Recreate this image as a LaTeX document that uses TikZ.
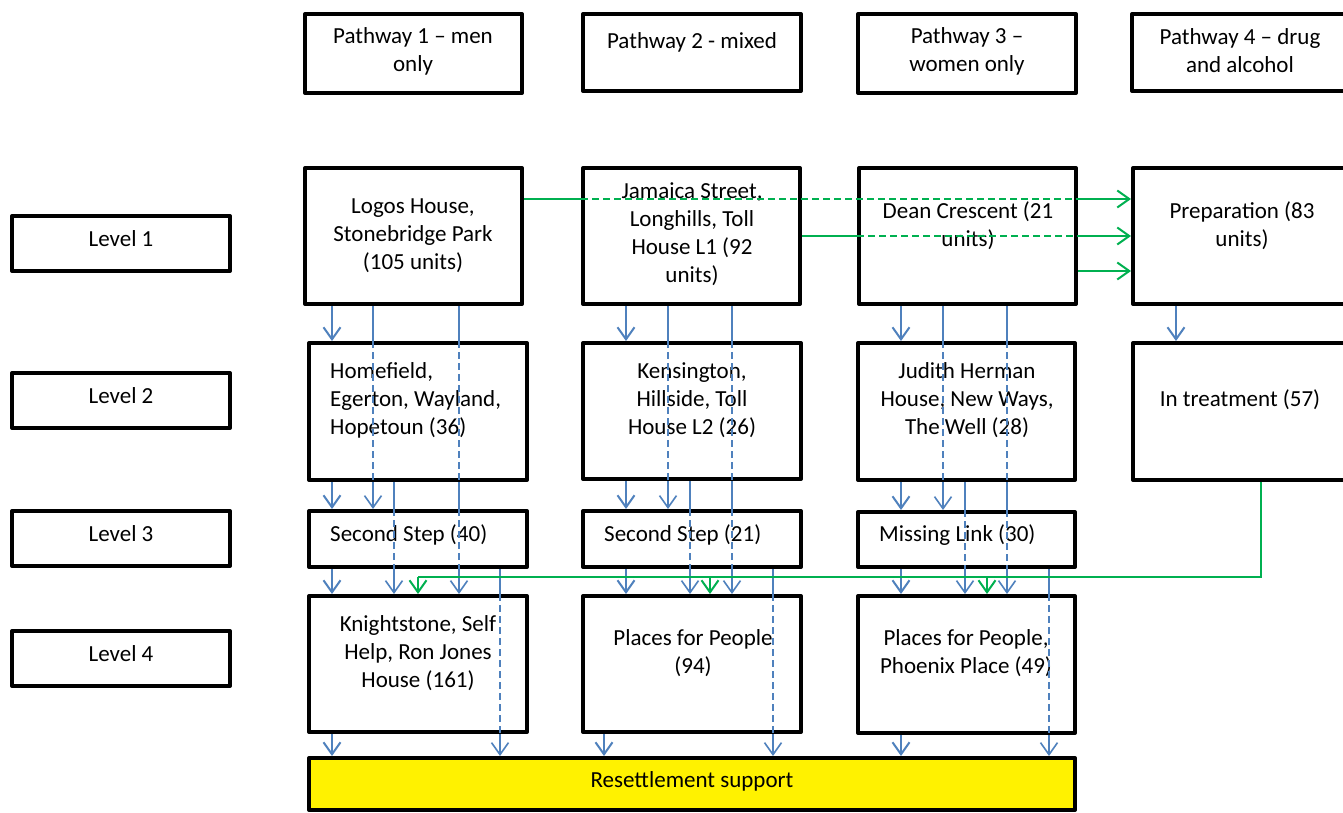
\documentclass[tikz,border=0pt]{standalone}
\usepackage{fontspec}
\setmainfont{Carlito}
\usetikzlibrary{arrows.meta}
\definecolor{bl}{HTML}{4F81BD}
\definecolor{gr}{HTML}{00B050}
\newcommand\bx[6][]{\node[box,#1,minimum width={#5-#3},minimum height={#6-#4}] (#2) at ({(#3+#5)/2},{(#4+#6)/2}) {};}
\newcommand\arrx[3]{\path (#1,0) coordinate (tx);
  \draw[bla] (#2.south -| tx) -- (#3.north -| tx);}
\newcommand\passA[4]{\path (#1,0) coordinate (tx);
  \draw[bls] (#2.south -| tx) -- (#3.north -| tx);
  \draw[bld] (#3.north -| tx) -- (#3.south -| tx);
  \draw[bll] (#3.south -| tx) -- (#4.north -| tx);}
\newcommand\passB[5]{\path (#1,0) coordinate (tx);
  \draw[bls] (#2.south -| tx) -- (#3.north -| tx);
  \draw[bld] (#3.north -| tx) -- (#3.south -| tx);
  \draw[bls] (#3.south -| tx) -- (#4.north -| tx);
  \draw[bld] (#4.north -| tx) -- (#4.south -| tx);
  \draw[bll] (#4.south -| tx) -- (#5.north -| tx);}
\begin{document}
\begin{tikzpicture}[x=1pt,y=-1pt,
  box/.style={draw=black,line width=4pt,line join=round,fill=white,inner sep=0pt},
  txt/.style={font=\fontsize{23}{28}\selectfont,inner sep=0pt,align=center,text=black},
  barb/.tip={Straight Barb[length=12pt,width=17pt]},
  bla/.style={draw=bl,line width=2pt,-barb},
  bls/.style={draw=bl,line width=1.6pt},
  bld/.style={bls,dash pattern=on 7pt off 4pt},
  bll/.style={bls,-barb},
  gs/.style={draw=gr,line width=2pt},
  gd/.style={gs,dash pattern=on 7pt off 4pt},
  ga/.style={gs,-barb},
]
\path[use as bounding box] (0,0) rectangle (1343,812);
\clip (0,0) rectangle (1343,812);
\fill[white] (0,0) rectangle (1343,812);

% boxes
\bx{p1}{305}{14}{522}{93}
\bx{p2}{583}{14}{801}{91}
\bx{p3}{858}{14}{1076}{93}
\bx{p4}{1132}{14}{1360}{91}
\bx{l1}{12}{216}{230}{271}
\bx{l2}{12}{373}{230}{428}
\bx{l3}{12}{511}{230}{566}
\bx{l4}{12}{631}{230}{686}
\bx{logos}{305}{168}{522}{304}
\bx{jam}{583}{168}{800}{304}
\bx{dean}{859}{168}{1076}{304}
\bx{prep}{1133}{168}{1360}{304}
\bx{hf}{309}{343}{527}{480}
\bx{ken}{583}{343}{801}{479}
\bx{jh}{858}{343}{1075}{480}
\bx{intr}{1133}{343}{1360}{480}
\bx{ssa}{309}{511}{527}{567}
\bx{ssb}{583}{511}{801}{567}
\bx{ml}{858}{512}{1075}{567}
\bx{kn}{309}{596}{527}{732}
\bx{pfp}{583}{596}{801}{732}
\bx{pp}{858}{596}{1075}{733}
\bx[fill=yellow]{res}{309}{758}{1075}{810}

% texts
\node[txt] (tp1) at (413,51) {Pathway 1 – men\\only};
\node[txt] (tp2) at (692,42) {Pathway 2 - mixed};
\node[txt] (tp3) at (967,51) {Pathway 3 –\\women only};
\node[txt] (tp4) at (1240,51) {Pathway 4 – drug\\and alcohol};
\node[txt] (tl1) at (121,239) {Level 1};
\node[txt] (tl2) at (121,396) {Level 2};
\node[txt] (tl3) at (121,534) {Level 3};
\node[txt] (tl4) at (121,654) {Level 4};
\node[txt] (tlogos) at (413,236) {Logos House,\\Stonebridge Park\\(105 units)};
\node[txt] (tjam) at (692,234) {Jamaica Street,\\Longhills, Toll\\House L1 (92\\units)};
\node[txt] (tdean) at (968,226) {Dean Crescent (21\\units)};
\node[txt] (tprep) at (1242,226) {Preparation (83\\units)};
\node[txt,align=left,anchor=west] (thf) at (330,400) {Homefield,\\Egerton, Wayland,\\Hopetoun (36)};
\node[txt] (tken) at (692,400) {Kensington,\\Hillside, Toll\\House L2 (26)};
\node[txt] (tjh) at (967,400) {Judith Herman\\House, New Ways,\\The Well (28)};
\node[txt] (tintr) at (1240,400) {In treatment (57)};
\node[txt,anchor=west] (tssa) at (330,535) {Second Step (40)};
\node[txt,anchor=west] (tssb) at (604,535) {Second Step (21)};
\node[txt,anchor=west] (tml) at (879,535) {Missing Link (30)};
\node[txt] (tkn) at (418,653) {Knightstone, Self\\Help, Ron Jones\\House (161)};
\node[txt] (tpfp) at (693,653) {Places for People\\(94)};
\node[txt] (tpp) at (966,653) {Places for People,\\Phoenix Place (49)};
\node[txt] (tres) at (692,781) {Resettlement support};

% blue connectors, pathway 1
\arrx{332}{logos}{hf}
\arrx{332}{hf}{ssa}
\arrx{332}{ssa}{kn}
\arrx{332}{kn}{res}
\passA{373}{logos}{hf}{ssa}
\passB{459}{logos}{hf}{ssa}{kn}
\passA{394}{hf}{ssa}{kn}
\passA{500}{ssa}{kn}{res}
% pathway 2
\arrx{626}{jam}{ken}
\arrx{626}{ken}{ssb}
\arrx{626}{ssb}{pfp}
\arrx{604}{pfp}{res}
\passA{668}{jam}{ken}{ssb}
\passB{732}{jam}{ken}{ssb}{pfp}
\passA{690}{ken}{ssb}{pfp}
\passA{773}{ssb}{pfp}{res}
% pathway 3
\arrx{901}{dean}{jh}
\arrx{901}{jh}{ml}
\arrx{901}{ml}{pp}
\arrx{901}{pp}{res}
\passA{943}{dean}{jh}{ml}
\passB{1007}{dean}{jh}{ml}{pp}
\passA{965}{jh}{ml}{pp}
\passA{1049}{ml}{pp}{res}
% pathway 4
\arrx{1176}{prep}{intr}

% green connectors
\path (0,199) coordinate (gya) (0,236) coordinate (gyb) (0,271) coordinate (gyc);
\draw[gs] (logos.east |- gya) -- (jam.west |- gya);
\draw[gd] (jam.west |- gya) -- (dean.east |- gya);
\draw[ga] (dean.east |- gya) -- (prep.west |- gya);
\draw[gs] (jam.east |- gyb) -- (dean.west |- gyb);
\draw[gd] (dean.west |- gyb) -- (dean.east |- gyb);
\draw[ga] (dean.east |- gyb) -- (prep.west |- gyb);
\draw[ga] (dean.east |- gyc) -- (prep.west |- gyc);
\path (1261,577) coordinate (gc) (418,577) coordinate (ge)
      (710,577) coordinate (gm) (987,577) coordinate (gn);
\draw[gs] (intr.south -| gc) -- (gc) -- (ge);
\draw[ga] (ge) -- (ge |- kn.north);
\draw[ga] (gm) -- (gm |- pfp.north);
\draw[ga] (gn) -- (gn |- pp.north);
\end{tikzpicture}
\end{document}
